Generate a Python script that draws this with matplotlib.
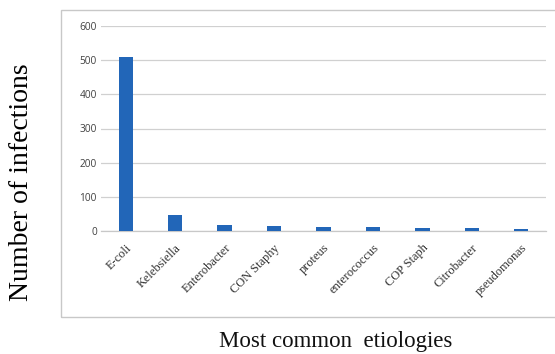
import matplotlib
matplotlib.use("Agg")
import matplotlib.pyplot as plt
from matplotlib.patches import Rectangle

categories = ["E-coli", "Kelebsiella", "Enterobacter", "CON Staphy", "proteus",
              "enterococcus", "COP Staph", "Citrobacter", "pseudomonas"]
infections = [510, 47, 19, 15, 13, 11, 9, 9, 5]
y_ticks = [0, 100, 200, 300, 400, 500, 600]

W, H = 555, 354
fig = plt.figure(figsize=(W / 100, H / 100), dpi=100)
fig.patch.set_facecolor("white")

# chart frame (open on the right side)
frame = Rectangle((61 / W, 1 - 317 / H), 600 / W, 307 / H, transform=fig.transFigure,
                  fill=False, edgecolor="#c8c8c8", linewidth=1.0, clip_on=False)
fig.patches.append(frame)

left, right = 101 / W, 546 / W
top, bottom = 1 - 26 / H, 1 - 231 / H
ax = fig.add_axes([left, bottom, right - left, top - bottom])

x = range(len(categories))
ax.bar(x, infections, width=0.29, color="#2266b8", zorder=3)
ax.set_xlim(-0.5, len(categories) - 0.5)
ax.set_ylim(0, 600)
ax.set_yticks(y_ticks)
ax.set_yticklabels([str(v) for v in y_ticks], fontfamily="Open Sans", fontsize=7.3,
                   color="#404040")
ax.yaxis.grid(True, color="#d0d0d0", linewidth=0.9, zorder=0)
ax.set_axisbelow(True)
for s in ["top", "right", "left"]:
    ax.spines[s].set_visible(False)
ax.spines["bottom"].set_color("#c8c8c8")
ax.spines["bottom"].set_linewidth(0.9)
ax.tick_params(axis="both", length=0)
ax.tick_params(axis="y", pad=3)
ax.tick_params(axis="x", pad=8)
ax.set_xticks(list(x))
ax.set_xticklabels(categories, rotation=45, ha="right", rotation_mode="anchor",
                   fontfamily="Liberation Serif", fontsize=8.9, color="#303030")

fig.text(22 / W, 1 - 182 / H, "Number of infections", rotation=90, ha="center",
         va="center", fontfamily="Liberation Serif", fontsize=20, color="#000000")
fig.text(336 / W, 1 - 342 / H, "Most common  etiologies", ha="center", va="center",
         fontfamily="Liberation Serif", fontsize=16.5, color="#111111")

fig.savefig("out.png", dpi=100)
